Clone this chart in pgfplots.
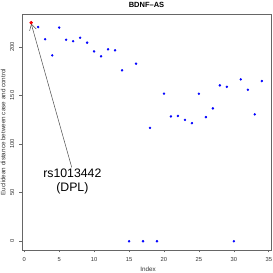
\documentclass[border=0pt]{standalone}
\usepackage{pgfplots}
\pgfplotsset{compat=1.18}
\usepackage{fontspec}
\setmainfont{Liberation Sans}
\usetikzlibrary{arrows.meta}
\begin{document}
\begin{tikzpicture}
\path[use as bounding box] (-22bp,-23bp) rectangle (251bp,250bp);
\begin{axis}[
  at={(0,0)}, anchor=south west,
  scale only axis, width=249bp, height=236bp,
  xmin=-0.32, xmax=35.32, ymin=-9, ymax=234,
  xtick={0,5,...,35}, ytick={0,50,...,200},
  xtick pos=left, ytick pos=left, tick align=outside,
  major tick length=2.5bp,
  axis line style={black!60, line width=0.6bp},
  every tick/.style={black!60, line width=0.6bp},
  /pgf/number format/assume math mode=true,
  tick label style={font=\fontsize{5.8bp}{7bp}\selectfont, text=black!80, inner sep=0pt},
  xticklabel style={anchor=north, yshift=-4.5bp},
  yticklabel style={rotate=90, anchor=south, yshift=5bp},
  clip=false,
]
\addplot[only marks, mark=*, mark size=1bp, color=blue] coordinates {
(1,225) (2,220.6) (3,208) (4,191.4) (5,220) (6,207.5) (7,206) (8,209.6)
(9,204.5) (10,195.5) (11,190.4) (12,197.6) (13,196.6) (14,176) (15,0)
(16,182.8) (17,0) (18,116.8) (19,0) (20,152) (21,128.5) (22,129) (23,125)
(24,121.6) (25,151.9) (26,127.8) (27,136.8) (28,160.5) (29,159) (30,0)
(31,166.7) (32,156) (33,130.6) (34,165)
};
\addplot[only marks, mark=*, mark size=1.5bp, color=red] coordinates {(1,225)};
\draw[black!70, line width=0.5bp, -{Straight Barb[length=6bp,width=7bp]}] (axis cs:6.8,76) -- (axis cs:1,224);
\node[align=center, font=\fontsize{12.3bp}{14.5bp}\selectfont, inner sep=0pt] at (axis cs:6.89,61.3) {rs1013442\\(DPL)};
\end{axis}
\node[font=\fontsize{7.5bp}{9bp}\selectfont\bfseries] at (124.5bp,245.3bp) {BDNF–AS};
\node[font=\fontsize{6.3bp}{8bp}\selectfont, text=black!80] at (126bp,-19bp) {Index};
\node[font=\fontsize{6.3bp}{8bp}\selectfont, text=black!80, rotate=90] at (-19bp,118bp) {Euclidean distance between case and control};
\end{tikzpicture}
\end{document}
